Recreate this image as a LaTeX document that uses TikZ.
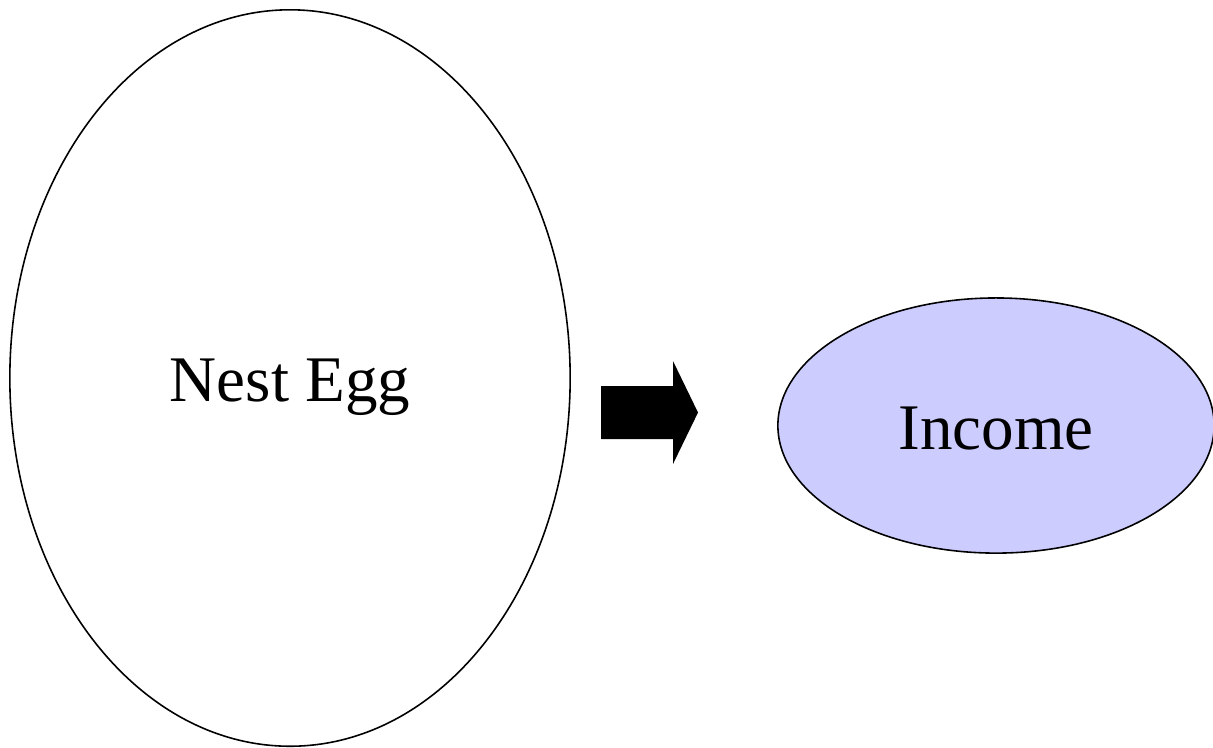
\documentclass[tikz,border=0pt]{standalone}
\usepackage{fontspec}
\setmainfont{Liberation Serif}
\definecolor{incomeblue}{RGB}{204,204,255}
\usepackage{tikz}
\usetikzlibrary{positioning,calc,shapes.geometric}

\begin{document}
\begin{tikzpicture}[x=0.01cm,y=-0.01cm,
  every node/.style={font=\fontsize{18.5}{22}\selectfont,text depth=0pt,text height=0.47cm},
  eggshape/.style={ellipse,draw,line width=0.45pt,inner sep=0pt}]
  \useasboundingbox (0,0) rectangle (1213,747);
  % the two ellipses
  \node[eggshape,fill=white,minimum width=5.6cm,minimum height=7.36cm] (nestegg) at (290,378) {Nest Egg};
  \node[eggshape,fill=incomeblue,minimum width=4.36cm,minimum height=2.55cm] (income) at (996,425.5) {Income};
  % block arrow between them
  \fill[black] (601,386) -- (673,386) -- (673,361) -- (698,412.5) -- (673,464) -- (673,439) -- (601,439) -- cycle;
\end{tikzpicture}
\end{document}
